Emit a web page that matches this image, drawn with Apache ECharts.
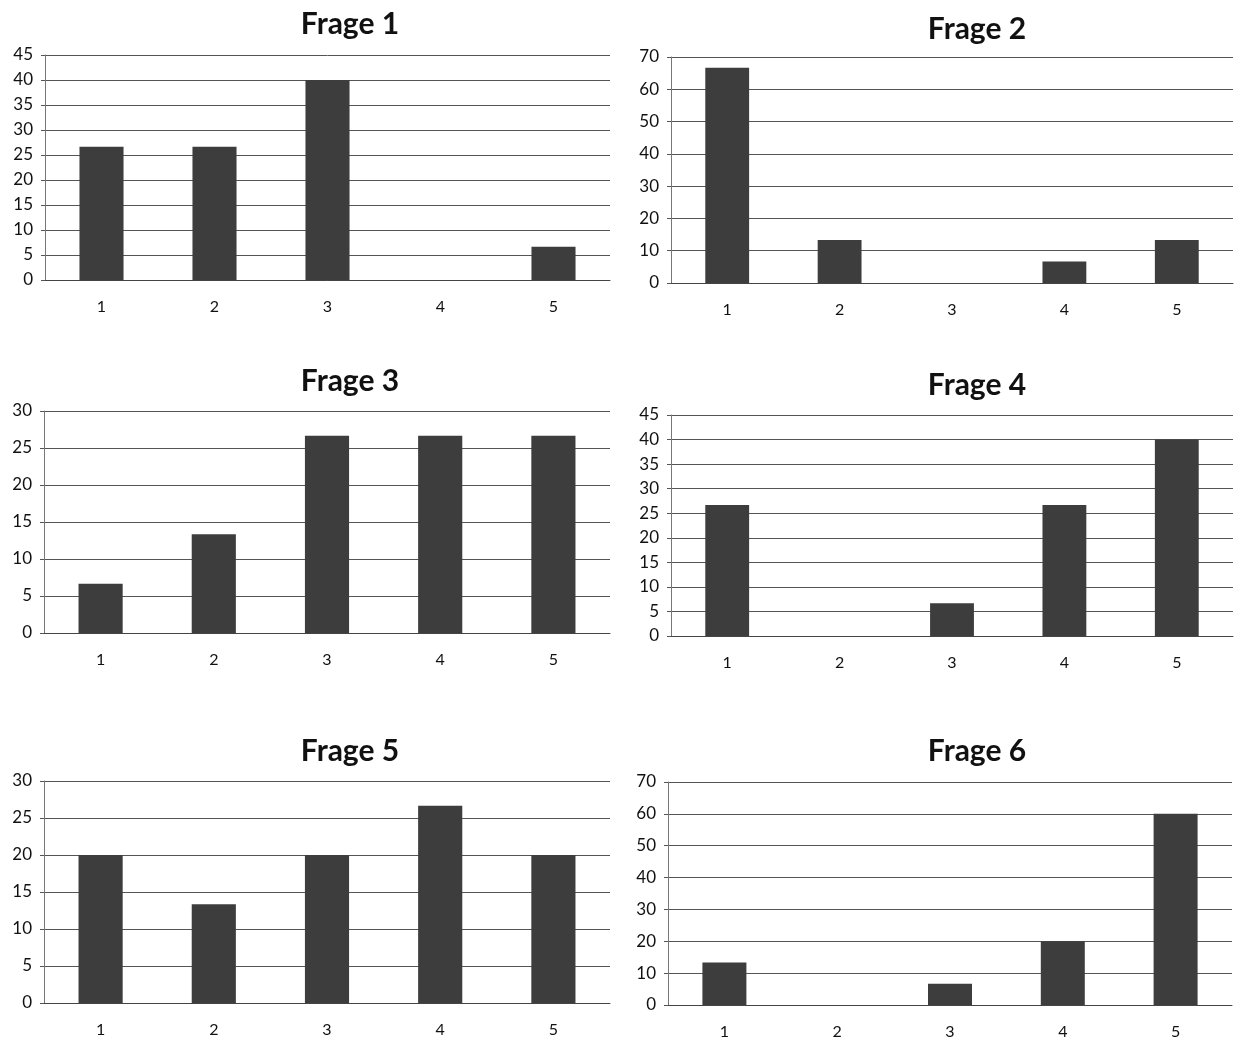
<!DOCTYPE html>
<html>
<head>
<meta charset="utf-8">
<script src="https://cdn.jsdelivr.net/npm/echarts@6/dist/echarts.min.js"></script>
<style>
html,body{margin:0;padding:0;background:#fff;}
#chart{width:1234px;height:1043px;}
</style>
</head>
<body>
<div id="chart"></div>
<script>
// Data (percent of respondents per answer option)
const categories = ['1', '2', '3', '4', '5'];
const titles = ['Frage 1', 'Frage 2', 'Frage 3', 'Frage 4', 'Frage 5', 'Frage 6'];
const frage1 = [26.67, 26.67, 40, 0, 6.67];
const frage2 = [66.67, 13.33, 0, 6.67, 13.33];
const frage3 = [6.67, 13.33, 26.67, 26.67, 26.67];
const frage4 = [26.67, 0, 6.67, 26.67, 40];
const frage5 = [20, 13.33, 20, 26.67, 20];
const frage6 = [13.33, 0, 6.67, 20, 60];
const yMax = [45, 70, 30, 45, 30, 70];
const yStep = [5, 10, 5, 5, 5, 10];

const allData = [frage1, frage2, frage3, frage4, frage5, frage6];

// layout of panels
const grids = [
  {left: 45,  top: 55,  width: 565, height: 225},
  {left: 671, top: 57,  width: 562, height: 226},
  {left: 44,  top: 411, width: 566, height: 222},
  {left: 671, top: 415, width: 562, height: 221},
  {left: 44,  top: 781, width: 566, height: 222},
  {left: 668, top: 782, width: 564, height: 223}
];
const titlePos = [
  {x: 345, y: 4}, {x: 972, y: 9}, {x: 345, y: 361},
  {x: 972, y: 365}, {x: 345, y: 731}, {x: 972, y: 731}
];

const fontFam = 'Lato, "Open Sans", sans-serif';

const option = {
  animation: false,
  backgroundColor: '#ffffff',
  title: titles.map((t, i) => ({
    text: t,
    left: titlePos[i].x,
    top: titlePos[i].y,
    textAlign: 'center',
    textStyle: {fontFamily: fontFam, fontWeight: 'bold', fontSize: 30, color: '#111'}
  })),
  grid: grids.map(g => Object.assign({containLabel: false}, g)),
  xAxis: grids.map((g, i) => ({
    type: 'category',
    gridIndex: i,
    data: categories,
    axisLine: {show: true, lineStyle: {color: '#444', width: 1}},
    axisTick: {show: false},
    axisLabel: {fontFamily: fontFam, fontSize: 16, color: '#111', margin: 19}
  })),
  yAxis: grids.map((g, i) => ({
    type: 'value',
    gridIndex: i,
    min: 0,
    max: yMax[i],
    interval: yStep[i],
    axisLine: {show: true, lineStyle: {color: '#777', width: 1}},
    axisTick: {show: true, length: 4, lineStyle: {color: '#555'}},
    splitLine: {show: true, lineStyle: {color: '#555', width: 1}},
    axisLabel: {fontFamily: fontFam, fontSize: 17, color: '#111', margin: 12}
  })),
  series: allData.map((d, i) => ({
    type: 'bar',
    xAxisIndex: i,
    yAxisIndex: i,
    data: d,
    barWidth: '39%',
    itemStyle: {color: '#3d3d3d'}
  }))
};

const chart = echarts.init(document.getElementById('chart'), null, {renderer: 'canvas'});
chart.setOption(option);
</script>
</body>
</html>
